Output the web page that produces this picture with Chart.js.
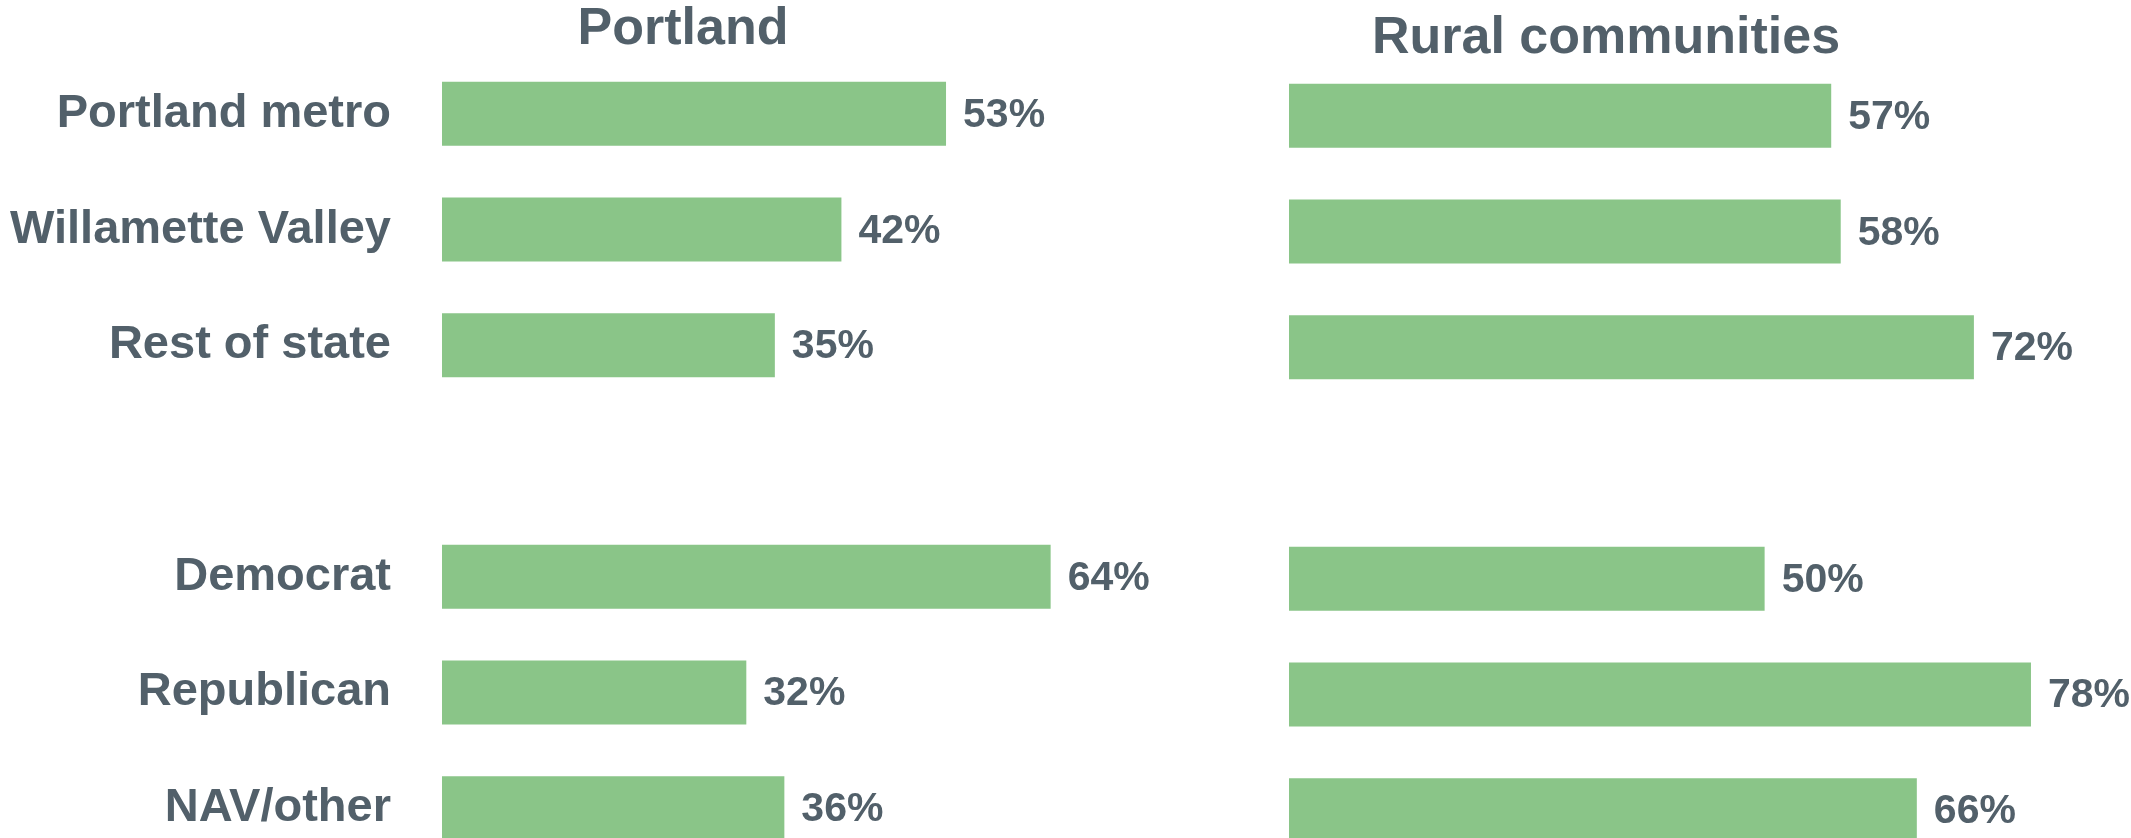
<!DOCTYPE html>
<html>
<head>
<meta charset="utf-8">
<script src="https://cdn.jsdelivr.net/npm/chart.js@4.4.1/dist/chart.umd.min.js"></script>
<style>
html, body { margin: 0; padding: 0; width: 2131px; height: 838px; overflow: hidden; background: #fff; }
#wrap { position: relative; width: 2131px; height: 880px; }
canvas { position: absolute; left: 0; top: 0; }
</style>
</head>
<body>
<div id="wrap">
	<canvas id="chartPortland" width="2131" height="880"></canvas>
	<canvas id="chartRural" width="2131" height="880"></canvas>
</div>
<script>
// rows, with an empty row between the region group and the party group
var categories = ['Portland metro', 'Willamette Valley', 'Rest of state', '', 'Democrat', 'Republican', 'NAV/other'];
var portlandValues = [53, 42, 35, null, 64, 32, 36];
var ruralValues = [57, 58, 72, null, 50, 78, 66];
var panelTitles = ['Portland', 'Rural communities'];

var barColor = 'rgb(138,197,136)';
var textColor = 'rgb(82,96,106)';
var fontFamily = '"Liberation Sans", Arial, Helvetica, sans-serif';

// percentage text at the end of each bar
var valueLabels = {
	id: 'valueLabels',
	afterDatasetsDraw: function(chart)
	{
		var ctx = chart.ctx;
		var meta = chart.getDatasetMeta(0);
		var values = chart.data.datasets[0].data;
		ctx.save();
		ctx.font = 'bold 41px ' + fontFamily;
		ctx.fillStyle = textColor;
		ctx.textAlign = 'left';
		ctx.textBaseline = 'alphabetic';
		for( var i=0; i<meta.data.length; i++ )
		{
			if( values[i] == null )
				continue;
			var bar = meta.data[i];
			ctx.fillText( values[i] + '%', bar.x + 17, bar.y + 13 );
		}
		ctx.restore();
	}
};

// panel heading above the bars
var panelTitle = {
	id: 'panelTitle',
	afterDraw: function(chart, args, opts)
	{
		var ctx = chart.ctx;
		ctx.save();
		ctx.font = 'bold 52px ' + fontFamily;
		ctx.fillStyle = textColor;
		ctx.textAlign = 'center';
		ctx.textBaseline = 'alphabetic';
		ctx.fillText( opts.text, opts.x, opts.y );
		ctx.restore();
	}
};

function startChart( canvasId, values, showLabels, xMax, padding, title )
{
	return new Chart(document.getElementById(canvasId), {
		type: 'bar',
		data: {
			labels: categories,
			datasets: [{
				data: values,
				backgroundColor: barColor,
				borderWidth: 0,
				categoryPercentage: 1,
				barPercentage: 0.553
			}]
		},
		plugins: [valueLabels, panelTitle],
		options: {
			indexAxis: 'y',
			responsive: false,
			maintainAspectRatio: false,
			animation: false,
			events: [],
			layout: { padding: padding },
			plugins: {
				legend: { display: false },
				tooltip: { enabled: false },
				panelTitle: title
			},
			scales: {
				x: { display: false, min: 0, max: xMax },
				y: {
					display: showLabels,
					grid: { display: false, drawTicks: false },
					border: { display: false },
					ticks: {
						autoSkip: false,
						padding: 51,
						color: textColor,
						font: { family: fontFamily, size: 47, weight: 'bold' }
					},
					afterFit: function(scale)
					{
						if( !showLabels )
							return;
						scale.width = 442;
						// keep the rows spread over the full plot height
						scale.paddingTop = 0;
						scale.paddingBottom = 0;
					}
				}
			}
		}
	});
}

startChart( 'chartPortland', portlandValues, true, 100,
	{ top: 56, bottom: 14, left: 0, right: 738 },
	{ text: panelTitles[0], x: 683, y: 44 } );

startChart( 'chartRural', ruralValues, false, 80,
	{ top: 58, bottom: 12, left: 1289, right: 81 },
	{ text: panelTitles[1], x: 1606, y: 53 } );
</script>
</body>
</html>
